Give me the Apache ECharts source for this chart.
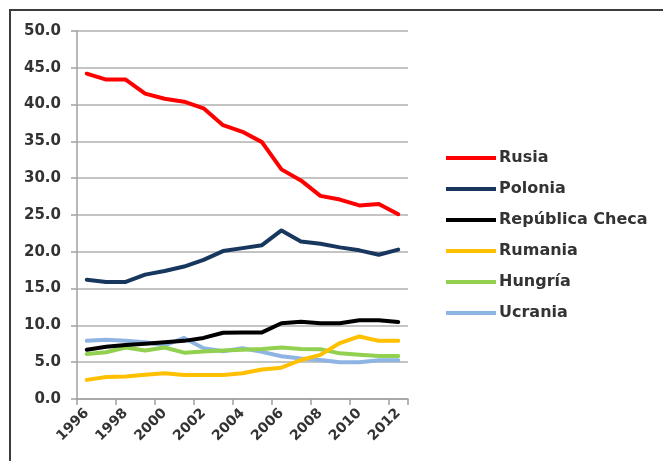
<!DOCTYPE html>
<html>
<head>
<meta charset="utf-8">
<script src="https://cdn.jsdelivr.net/npm/echarts@6/dist/echarts.min.js"></script>
<style>
html,body{margin:0;padding:0;background:#fff;}
#chart{width:663px;height:461px;}
</style>
</head>
<body>
<div id="chart"></div>
<script>
const years = ['1996','1997','1998','1999','2000','2001','2002','2003','2004','2005','2006','2007','2008','2009','2010','2011','2012'];
const rusia   = [44.2,43.4,43.4,41.5,40.8,40.4,39.5,37.2,36.3,34.9,31.2,29.7,27.6,27.1,26.3,26.5,25.1];
const polonia = [16.2,15.9,15.9,16.9,17.4,18.0,18.9,20.1,20.5,20.9,22.9,21.4,21.1,20.6,20.2,19.6,20.3];
const checa   = [6.7,7.1,7.35,7.5,7.7,7.9,8.3,9.0,9.05,9.05,10.3,10.5,10.3,10.3,10.7,10.7,10.45];
const rumania = [2.6,3.0,3.05,3.3,3.5,3.25,3.25,3.25,3.5,4.0,4.25,5.3,6.0,7.6,8.5,7.9,7.9];
const hungria = [6.1,6.35,7.0,6.6,7.0,6.3,6.45,6.6,6.7,6.8,7.0,6.8,6.75,6.2,6.0,5.85,5.85];
const ucrania = [7.9,8.05,7.9,7.7,7.3,8.3,6.9,6.5,6.9,6.4,5.8,5.5,5.3,5.0,5.0,5.25,5.25];
const yTicks = [0,5,10,15,20,25,30,35,40,45,50];

const names = ['Rusia','Polonia','República Checa','Rumania','Hungría','Ucrania'];
const colors = ['#ff0000','#17375e','#000000','#ffc000','#92d050','#8eb4e3'];
const datasets = [rusia,polonia,checa,rumania,hungria,ucrania];

const chart = echarts.init(document.getElementById('chart'));
const FONT = 'DejaVu Sans';
chart.setOption({
  animation:false,
  backgroundColor:'#ffffff',
  graphic:[{type:'rect',shape:{x:10,y:10,width:800,height:600},style:{fill:'none',stroke:'#3c3c3c',lineWidth:2},silent:true}],
  grid:{left:77,top:31,right:255,bottom:62,containLabel:false},
  legend:{
    orient:'vertical',left:441,top:145,
    icon:'rect',itemWidth:50,itemHeight:4,itemGap:15,
    textStyle:{fontFamily:FONT,fontWeight:'bold',fontSize:16,color:'#333333',lineHeight:16,padding:[0,0,0,-2]},
    data:names
  },
  xAxis:{
    type:'category',data:years,boundaryGap:true,
    axisLine:{lineStyle:{color:'#a0a0a0',width:1.5}},
    axisTick:{show:true,length:6,lineStyle:{color:'#a0a0a0',width:1.5}},
    axisLabel:{interval:1,rotate:45,margin:12,fontFamily:FONT,fontWeight:'bold',fontSize:14,color:'#333333'}
  },
  yAxis:{
    type:'value',min:yTicks[0],max:yTicks[yTicks.length-1],interval:5,
    axisLine:{show:true,lineStyle:{color:'#a0a0a0',width:1.5}},
    axisTick:{show:true,length:6,lineStyle:{color:'#a0a0a0',width:1.5}},
    splitLine:{lineStyle:{color:'#b0b0b0',width:1.5}},
    axisLabel:{margin:16,fontFamily:FONT,fontWeight:'bold',fontSize:15,color:'#333333',formatter:v=>v.toFixed(1)}
  },
  series:datasets.map((d,i)=>({
    name:names[i],type:'line',data:d,showSymbol:false,symbol:'none',
    lineStyle:{color:colors[i],width:4,join:'round',cap:'round'},
    itemStyle:{color:colors[i]},
    z:10-i
  }))
});
</script>
</body>
</html>
